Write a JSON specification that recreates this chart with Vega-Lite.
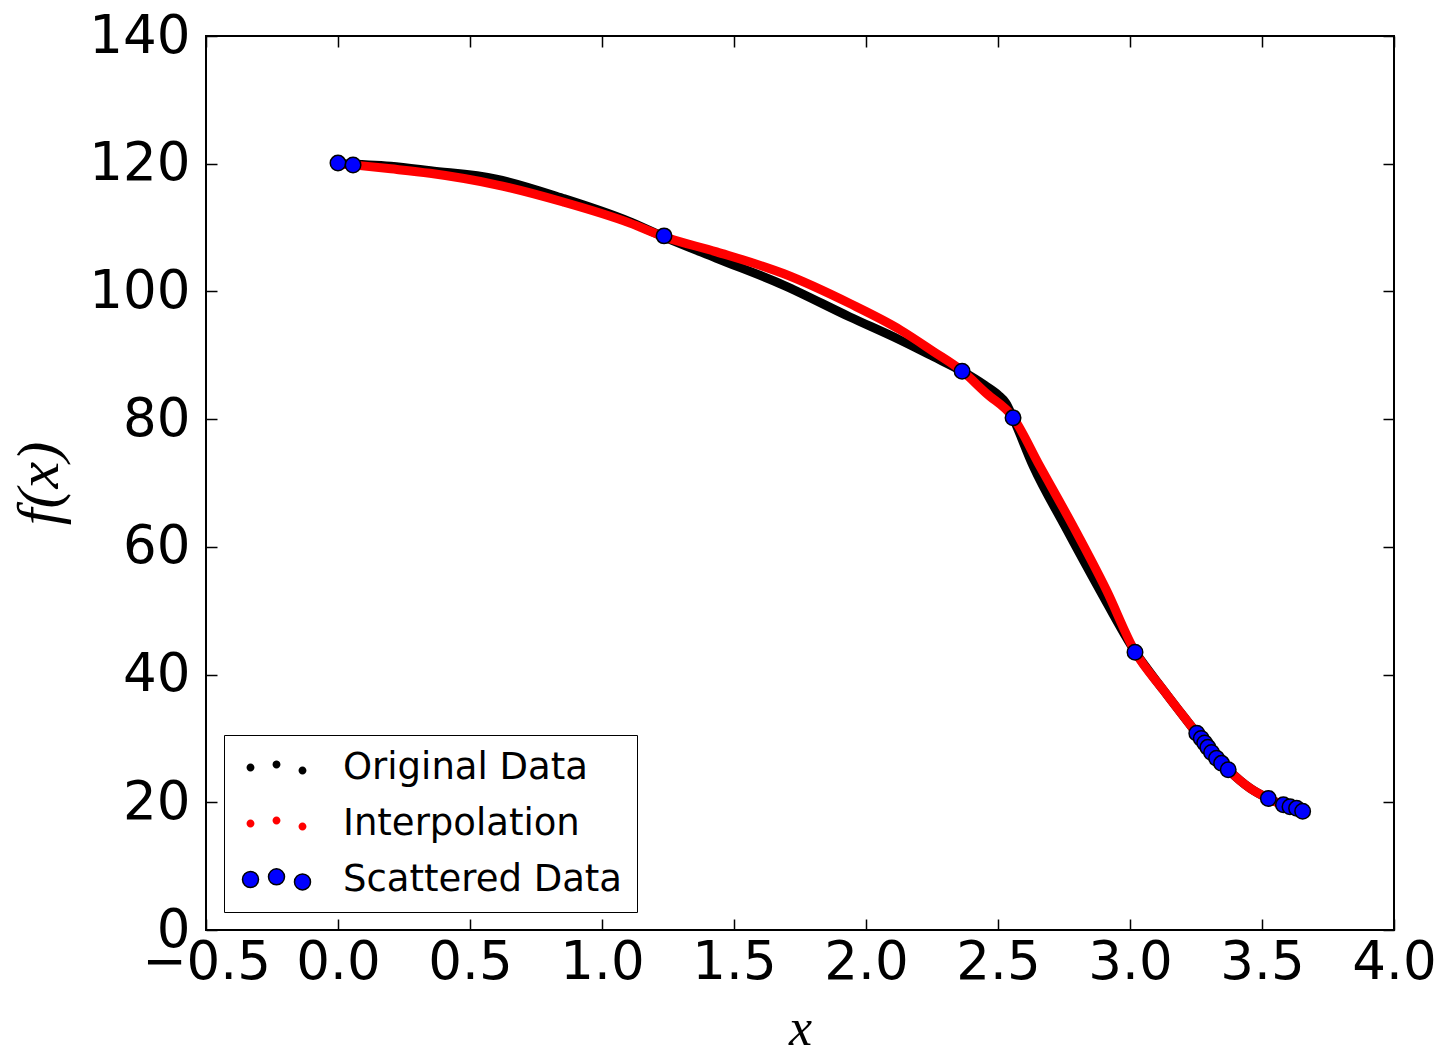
{
  "$schema": "https://vega.github.io/schema/vega-lite/v6.json",
  "width": 1188,
  "height": 894,
  "autosize": "none",
  "padding": {"left": 206, "top": 36, "right": 45, "bottom": 125},
  "background": "white",
  "config": {
    "view": {"stroke": "black", "strokeWidth": 2},
    "axis": {
      "grid": false,
      "domain": false,
      "tickColor": "black",
      "tickWidth": 1.5,
      "tickSize": -11,
      "labelColor": "black",
      "labelFont": "DejaVu Sans",
      "labelFontSize": 53,
      "labelFlush": false,
      "labelOverlap": false,
      "titleColor": "black",
      "titleFont": "Liberation Serif",
      "titleFontStyle": "italic",
      "titleFontWeight": "normal",
      "titleFontSize": 52
    },
    "legend": {
      "labelFont": "DejaVu Sans",
      "labelFontSize": 37,
      "labelColor": "black",
      "labelLimit": 600
    }
  },
  "datasets": {
    "original": [
      {"x": 0.0, "y": 120.0},
      {"x": 0.2, "y": 119.6},
      {"x": 0.35, "y": 118.9},
      {"x": 0.6, "y": 117.6},
      {"x": 0.85, "y": 114.6},
      {"x": 1.1, "y": 111.0},
      {"x": 1.232, "y": 108.6},
      {"x": 1.434, "y": 105.2},
      {"x": 1.687, "y": 101.0},
      {"x": 1.939, "y": 96.0},
      {"x": 2.129, "y": 92.4},
      {"x": 2.255, "y": 89.8},
      {"x": 2.364, "y": 87.5},
      {"x": 2.45, "y": 85.3},
      {"x": 2.5, "y": 83.8},
      {"x": 2.53, "y": 82.5},
      {"x": 2.557, "y": 80.2},
      {"x": 2.634, "y": 72.6},
      {"x": 2.754, "y": 63.2},
      {"x": 2.886, "y": 53.2},
      {"x": 3.019, "y": 43.6},
      {"x": 3.126, "y": 37.6},
      {"x": 3.202, "y": 33.5},
      {"x": 3.253, "y": 30.8},
      {"x": 3.31, "y": 27.8},
      {"x": 3.372, "y": 25.1},
      {"x": 3.455, "y": 22.2},
      {"x": 3.524, "y": 20.6},
      {"x": 3.58, "y": 19.6},
      {"x": 3.66, "y": 18.5}
    ],
    "interp": [
      {"x": 0.0, "y": 120.0},
      {"x": 0.083, "y": 119.7},
      {"x": 0.2, "y": 119.2},
      {"x": 0.348, "y": 118.5},
      {"x": 0.6, "y": 116.7},
      {"x": 0.853, "y": 114.0},
      {"x": 1.106, "y": 110.7},
      {"x": 1.232, "y": 108.6},
      {"x": 1.434, "y": 106.2},
      {"x": 1.687, "y": 102.8},
      {"x": 1.939, "y": 98.1},
      {"x": 2.129, "y": 94.0},
      {"x": 2.255, "y": 90.6},
      {"x": 2.362, "y": 87.6},
      {"x": 2.457, "y": 84.0},
      {"x": 2.555, "y": 80.4},
      {"x": 2.659, "y": 72.6},
      {"x": 2.785, "y": 63.2},
      {"x": 2.911, "y": 53.2},
      {"x": 3.019, "y": 43.6},
      {"x": 3.126, "y": 37.6},
      {"x": 3.202, "y": 33.5},
      {"x": 3.253, "y": 30.8},
      {"x": 3.31, "y": 27.8},
      {"x": 3.372, "y": 25.1},
      {"x": 3.455, "y": 22.2},
      {"x": 3.524, "y": 20.6},
      {"x": 3.58, "y": 19.6},
      {"x": 3.654, "y": 18.6}
    ],
    "scatter": [
      {"x": 0.0, "y": 120.1, "series": "Scattered Data"},
      {"x": 0.057, "y": 119.8, "series": "Scattered Data"},
      {"x": 1.235, "y": 108.7, "series": "Scattered Data"},
      {"x": 2.364, "y": 87.5, "series": "Scattered Data"},
      {"x": 2.557, "y": 80.2, "series": "Scattered Data"},
      {"x": 3.019, "y": 43.5, "series": "Scattered Data"},
      {"x": 3.253, "y": 30.8, "series": "Scattered Data"},
      {"x": 3.27, "y": 30.0, "series": "Scattered Data"},
      {"x": 3.283, "y": 29.3, "series": "Scattered Data"},
      {"x": 3.295, "y": 28.6, "series": "Scattered Data"},
      {"x": 3.309, "y": 27.8, "series": "Scattered Data"},
      {"x": 3.328, "y": 26.9, "series": "Scattered Data"},
      {"x": 3.347, "y": 26.1, "series": "Scattered Data"},
      {"x": 3.372, "y": 25.1, "series": "Scattered Data"},
      {"x": 3.524, "y": 20.6, "series": "Scattered Data"},
      {"x": 3.581, "y": 19.6, "series": "Scattered Data"},
      {"x": 3.606, "y": 19.3, "series": "Scattered Data"},
      {"x": 3.631, "y": 19.05, "series": "Scattered Data"},
      {"x": 3.654, "y": 18.6, "series": "Scattered Data"}
    ]
  },
  "layer": [
    {
      "data": {"name": "original"},
      "mark": {"type": "line", "color": "black", "strokeWidth": 9, "interpolate": "monotone", "strokeCap": "round", "strokeJoin": "round"},
      "encoding": {
        "x": {"field": "x", "type": "quantitative", "scale": {"domain": [-0.5, 4], "nice": false, "zero": false},
          "axis": {"orient": "bottom", "values": [-0.5, 0, 0.5, 1, 1.5, 2, 2.5, 3, 3.5, 4], "format": ".1f", "labelPadding": 17, "title": "x", "titlePadding": 14, "titleFontSize": 52}},
        "y": {"field": "y", "type": "quantitative", "scale": {"domain": [0, 140], "nice": false, "zero": false},
          "axis": {"orient": "left", "values": [0, 20, 40, 60, 80, 100, 120, 140], "format": "d", "labelPadding": 27, "title": "f(x)", "titlePadding": 18, "titleFontSize": 60}}
      }
    },
    {
      "data": {"name": "interp"},
      "mark": {"type": "line", "color": "#ff0000", "strokeWidth": 9, "interpolate": "monotone", "strokeCap": "round", "strokeJoin": "round"},
      "encoding": {
        "x": {"field": "x", "type": "quantitative",
          "axis": {"orient": "top", "values": [-0.5, 0, 0.5, 1, 1.5, 2, 2.5, 3, 3.5, 4], "labels": false, "title": null}},
        "y": {"field": "y", "type": "quantitative",
          "axis": {"orient": "right", "values": [0, 20, 40, 60, 80, 100, 120, 140], "labels": false, "title": null}}
      }
    },
    {
      "data": {"name": "scatter"},
      "mark": {"type": "point", "filled": true, "size": 240, "stroke": "black", "strokeWidth": 1.5, "opacity": 1},
      "encoding": {
        "x": {"field": "x", "type": "quantitative", "axis": null},
        "y": {"field": "y", "type": "quantitative", "axis": null},
        "color": {
          "field": "series", "type": "nominal",
          "scale": {"domain": ["Original Data", "Interpolation", "Scattered Data"], "range": ["black", "#ff0000", "#0000ff"]},
          "legend": {
            "title": null,
            "orient": "bottom-left",
            "offset": 18,
            "padding": 14,
            "fillColor": "white",
            "strokeColor": "black",
            "symbolSize": 576,
            "symbolOpacity": 1,
            "symbolStrokeWidth": 1.5,
            "symbolType": {"expr": "datum.value === 'Scattered Data' ? 'M-1.167,0A0.667,0.667 0 1,0 0.167,0A0.667,0.667 0 1,0 -1.167,0Z M1,-0.22A0.667,0.667 0 1,0 2.334,-0.22A0.667,0.667 0 1,0 1,-0.22Z M3.166,0.2A0.667,0.667 0 1,0 4.5,0.2A0.667,0.667 0 1,0 3.166,0.2Z' : 'M-0.83,0A0.33,0.33 0 1,0 -0.17,0A0.33,0.33 0 1,0 -0.83,0Z M1.337,-0.25A0.33,0.33 0 1,0 1.997,-0.25A0.33,0.33 0 1,0 1.337,-0.25Z M3.503,0.25A0.33,0.33 0 1,0 4.163,0.25A0.33,0.33 0 1,0 3.503,0.25Z'"},
            "symbolStrokeColor": {"expr": "datum.value === 'Scattered Data' ? 'black' : 'transparent'"},
            "labelOffset": 68,
            "rowPadding": 18,
            "encode": {
              "legend": {"strokeWidth": {"value": 2}}
            }
          }
        }
      }
    }
  ],
  "resolve": {"axis": {"x": "independent", "y": "independent"}}
}
